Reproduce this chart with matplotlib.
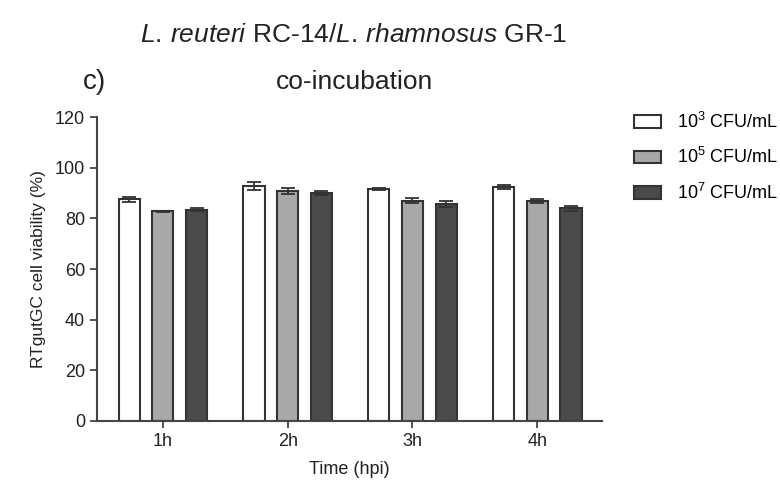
import matplotlib

matplotlib.use("Agg")
import matplotlib.pyplot as plt
import numpy as np
from matplotlib.patches import Patch

plt.rcParams["font.family"] = ["Liberation Sans", "DejaVu Sans"]
plt.rcParams["mathtext.fontset"] = "custom"
plt.rcParams["mathtext.rm"] = "Liberation Sans"
plt.rcParams["mathtext.it"] = "Liberation Sans:italic"

EDGE = "#333333"
WHITE = "#ffffff"
GRAY = "#a8a8a8"
DARK = "#4a4a4a"

timepoints = ["1h", "2h", "3h", "4h"]
dose_labels = ["10$^3$ CFU/mL", "10$^5$ CFU/mL", "10$^7$ CFU/mL"]

# mean viability (%) and SEM per dose
viab_1e3 = [87.5, 92.8, 91.7, 92.5]
viab_1e5 = [82.8, 90.7, 87.0, 86.7]
viab_1e7 = [83.5, 90.2, 85.7, 84.0]
err_1e3 = [1.0, 1.6, 0.4, 0.8]
err_1e5 = [0.3, 1.2, 1.0, 0.8]
err_1e7 = [0.5, 0.8, 1.1, 1.0]

fig = plt.figure(figsize=(7.8, 4.9), dpi=100)
ax = fig.add_axes([0.124, 0.141, 0.648, 0.620])

x = np.arange(len(timepoints))
width = 0.17
offset = 0.27
series = [
    (viab_1e3, err_1e3, WHITE),
    (viab_1e5, err_1e5, GRAY),
    (viab_1e7, err_1e7, DARK),
]
handles = []
for i, (vals, errs, color) in enumerate(series):
    pos = x + (i - 1) * offset
    ax.bar(pos, vals, width, color=color, edgecolor=EDGE, linewidth=1.5, zorder=2)
    ax.errorbar(pos, vals, yerr=errs, fmt="none", ecolor=EDGE,
                elinewidth=1.3, capsize=5, capthick=1.3, zorder=3)
    handles.append(Patch(facecolor=color, edgecolor=EDGE, linewidth=1.5,
                         label=dose_labels[i]))

ax.set_xlim(-0.53, 3.52)
ax.set_ylim(0, 120)
ax.set_yticks(np.arange(0, 121, 20))
ax.set_xticks(x)
ax.set_xticklabels(timepoints)
for side in ["top", "right"]:
    ax.spines[side].set_visible(False)
for side in ["left", "bottom"]:
    ax.spines[side].set_linewidth(1.5)
    ax.spines[side].set_color("#444444")
ax.tick_params(axis="both", direction="out", length=5, width=1.3,
               color="#444444", labelsize=13, labelcolor="#222222")
ax.set_xlabel("Time (hpi)", fontsize=13, color="#222222", labelpad=8)
ax.set_ylabel("RTgutGC cell viability (%)", fontsize=12.5, color="#222222",
              labelpad=6)

fig.legend(handles=handles, loc="upper left", bbox_to_anchor=(0.792, 0.805),
           frameon=False, fontsize=13, handlelength=1.5, handleheight=0.7,
           labelspacing=0.85, handletextpad=0.9)

fig.text(0.454, 0.928, r"$\mathit{L.\,reuteri}$ RC-14/$\mathit{L.\,rhamnosus}$ GR-1",
         ha="center", va="center", fontsize=19, color="#222222")
fig.text(0.455, 0.833, "co-incubation", ha="center", va="center",
         fontsize=19, color="#222222")
fig.text(0.121, 0.833, "c)", ha="center", va="center", fontsize=20,
         color="#222222")

fig.savefig("out.png", dpi=100)
